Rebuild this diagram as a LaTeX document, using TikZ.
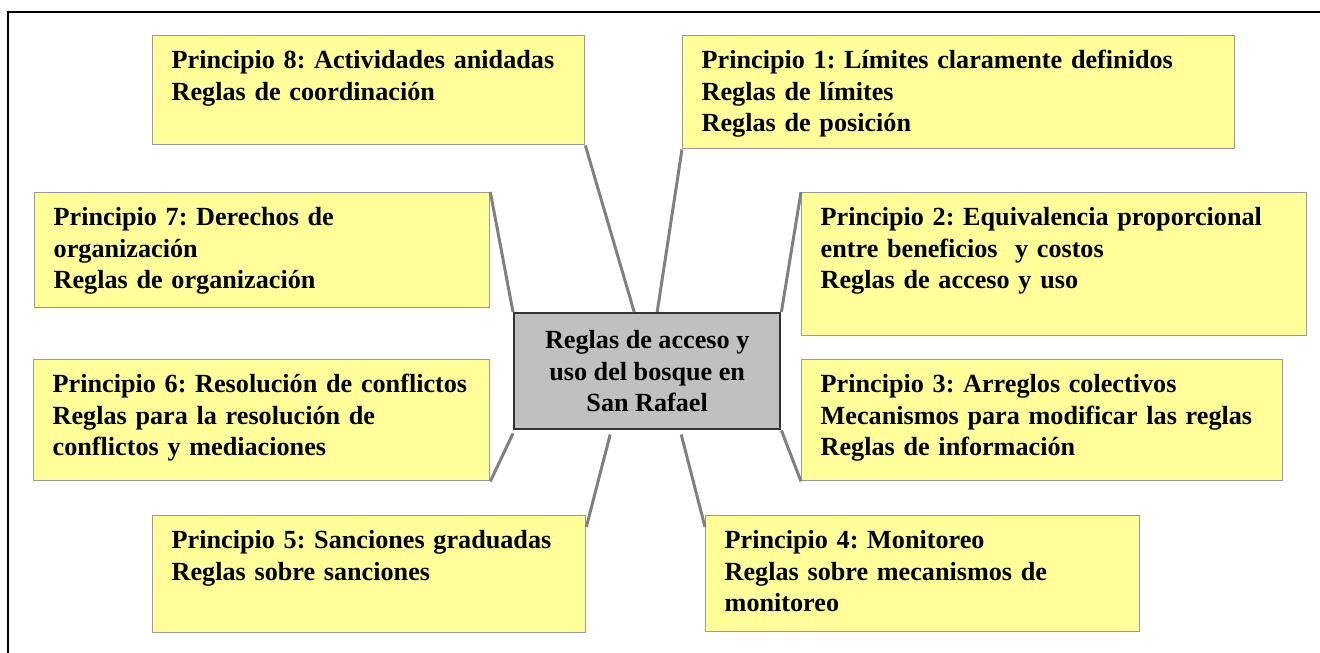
\documentclass[tikz,border=0pt]{standalone}
\usepackage{fontspec}
\setmainfont{Liberation Serif}
\usepackage{tikz}
\frenchspacing
\hyphenpenalty=10000
\definecolor{amarillo}{HTML}{FFFF99}
\definecolor{bordecaja}{HTML}{9A9A9A}
\definecolor{grisCentro}{HTML}{C0C0C0}
\definecolor{bordeCentro}{HTML}{333333}
\definecolor{grisEnlace}{HTML}{808080}
\tikzset{
  principio/.style 2 args={draw=bordecaja, line width=0.8pt, fill=amarillo,
    anchor=north west, inner xsep=0.38cm, inner ysep=0pt,
    text width=#1, text height=0.66cm, text depth=#2, align=left,
    font=\fontsize{14.9}{17.9}\selectfont\bfseries},
  centro/.style={draw=bordeCentro, line width=1.4pt, fill=grisCentro,
    anchor=north west, inner sep=0pt, minimum width=5.32cm,
    minimum height=2.32cm, align=center,
    font=\fontsize{14.9}{17.9}\selectfont\bfseries},
  enlace/.style={draw=grisEnlace, line width=1.7pt}
}

\begin{document}
\begin{tikzpicture}[x=0.02cm,y=-0.02cm]
	\useasboundingbox (0,0) rectangle (1320,653);
	\draw[line width=1.1pt] (8,653) -- (8,12) -- (1320,12);

	\node[centro] (reglas) at (513,312) {Reglas de acceso y\\uso del bosque en\\San Rafael};

	\node[principio={7.88cm}{1.52cm}] (p8) at (152,35)
		{Principio 8: Actividades anidadas\\Reglas de coordinación};
	\node[principio={10.28cm}{1.60cm}] (p1) at (682,35)
		{Principio 1: Límites claramente definidos\\Reglas de límites\\Reglas de posición};
	\node[principio={8.34cm}{1.64cm}] (p7) at (34,192)
		{Principio 7: Derechos de\\organización\\Reglas de organización};
	\node[principio={9.34cm}{2.20cm}] (p2) at (801,192)
		{Principio 2: Equivalencia proporcional\\entre beneficios~ y costos\\Reglas de acceso y uso};
	\node[principio={8.36cm}{1.76cm}] (p6) at (33,359)
		{Principio 6: Resolución de conflictos\\Reglas para la resolución de\\conflictos y mediaciones};
	\node[principio={8.86cm}{1.76cm}] (p3) at (801,359)
		{Principio 3: Arreglos colectivos\\Mecanismos para modificar las reglas\\Reglas de información};
	\node[principio={7.90cm}{1.68cm}] (p5) at (152,515)
		{Principio 5: Sanciones graduadas\\Reglas sobre sanciones};
	\node[principio={7.92cm}{1.66cm}] (p4) at (705,515)
		{Principio 4: Monitoreo\\Reglas sobre mecanismos de\\monitoreo};

	% enlaces al centro
	\draw[enlace] (p8.south east) -- ([xshift=-0.26cm]reglas.north);
	\draw[enlace] (p1.south west) -- ([xshift=0.2cm]reglas.north);
	\draw[enlace] (p7.north east) -- (reglas.north west);
	\draw[enlace] (p2.north west) -- (reglas.north east);
	\draw[enlace] (p6.south east) -- ([yshift=-0.06cm]reglas.south west);
	\draw[enlace] (p3.south west) -- (reglas.south east);
	\draw[enlace] ([yshift=-0.24cm]p5.north east) -- ([xshift=-0.74cm,yshift=-0.08cm]reglas.south);
	\draw[enlace] ([yshift=-0.24cm]p4.north west) -- ([xshift=0.68cm,yshift=-0.08cm]reglas.south);
\end{tikzpicture}
\end{document}
